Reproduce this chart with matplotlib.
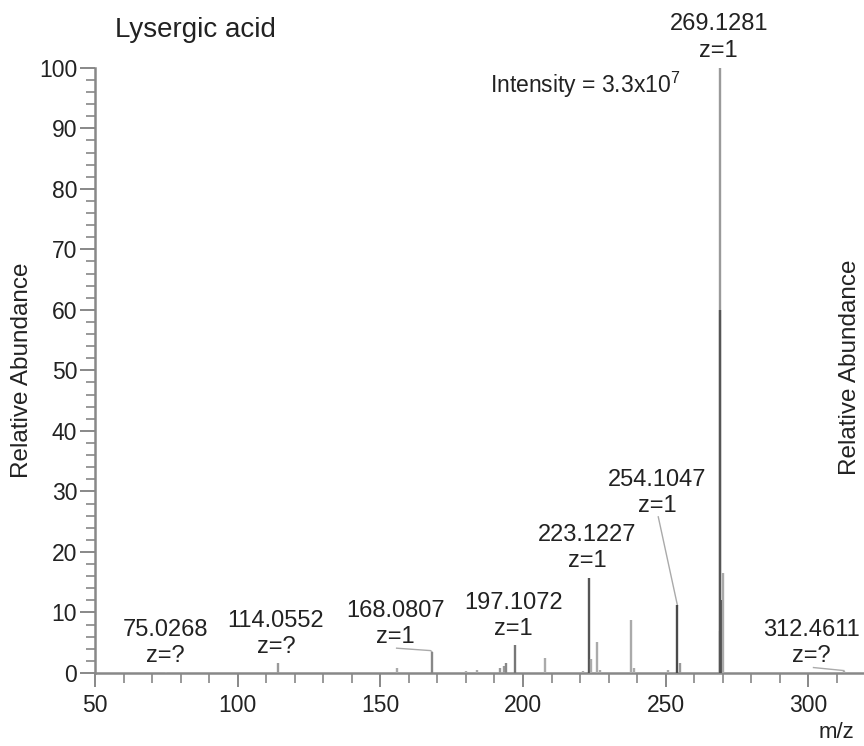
import matplotlib
matplotlib.use("Agg")
import matplotlib.pyplot as plt
from matplotlib.ticker import FixedLocator

# ---------------- data ----------------
peak_mz = [75.0268, 114.0552, 155.7, 168.0807, 180.0, 183.8, 192.0, 193.4, 194.1,
           197.1072, 207.8, 221.0, 223.1227, 224.0, 226.0, 227.0, 238.0, 238.9,
           250.8, 254.1047, 255.1, 268.9, 269.1281, 269.05, 269.8, 270.13, 312.4611]
peak_int = [0.2, 1.6, 0.8, 3.5, 0.3, 0.5, 0.9, 1.2, 1.7,
            4.6, 2.4, 0.4, 15.7, 2.3, 5.1, 0.5, 8.8, 0.9,
            0.5, 11.2, 1.7, 7.0, 100.0, 60.0, 12.0, 16.5, 0.3]
peak_shade = ["#aaaaaa", "#999999", "#aaaaaa", "#888888", "#aaaaaa", "#aaaaaa", "#999999", "#999999", "#888888",
              "#777777", "#aaaaaa", "#aaaaaa", "#555555", "#aaaaaa", "#aaaaaa", "#aaaaaa", "#aaaaaa", "#aaaaaa",
              "#aaaaaa", "#4a4a4a", "#999999", "#aaaaaa", "#9a9a9a", "#555555", "#4a4a4a", "#aaaaaa", "#aaaaaa"]

label_mz = ["75.0268", "114.0552", "168.0807", "197.1072", "223.1227", "254.1047", "269.1281", "312.4611"]
label_z = ["z=?", "z=?", "z=1", "z=1", "z=1", "z=1", "z=1", "z=?"]
label_x = [74.7, 113.4, 155.2, 196.6, 222.6, 246.9, 268.6, 301.2]
label_y = [4.96, 6.4, 8.07, 9.45, 20.6, 29.7, 105.0, 4.9]

y_major = list(range(0, 101, 10))
y_minor = list(range(0, 101, 2))
x_major = list(range(50, 301, 50))
x_minor = list(range(50, 321, 10))

title = "Lysergic acid"
intensity_text = "Intensity = 3.3x10$^{7}$"
x_label = "m/z"
y_label = "Relative Abundance"

# ---------------- style ----------------
plt.rcParams["font.family"] = ["Liberation Sans", "DejaVu Sans"]
plt.rcParams["mathtext.fontset"] = "custom"
plt.rcParams["mathtext.rm"] = "Liberation Sans"
plt.rcParams["mathtext.default"] = "regular"

txt = "#222222"
axis_col = "#888888"

fig = plt.figure(figsize=(8.64, 7.46), dpi=100)
ax = fig.add_axes([95 / 864, 73 / 746, 1 - 95 / 864, 673 / 746])

ax.set_xlim(50, 319.5)
ax.set_ylim(0, 111.2)

ax.vlines(peak_mz, 0, peak_int, colors=peak_shade, linewidth=1.7, zorder=3)

for s, z, x, y in zip(label_mz, label_z, label_x, label_y):
    ax.text(x, y, s + "\n" + z, ha="center", va="center", fontsize=17,
            color=txt, linespacing=1.25, zorder=4)

# leader lines
leader_col = "#aaaaaa"
ax.plot([247.4, 254.1047], [25.8, 11.2], color=leader_col, lw=1.0, zorder=2)
ax.plot([155.7, 167.6, 168.0807], [4.1, 3.7, 3.5], color=leader_col, lw=1.0, zorder=2)
ax.plot([301.8, 312.4611], [0.9, 0.4], color=leader_col, lw=1.0, zorder=2)

ax.text(57, 106.3, title, fontsize=20, color=txt, ha="left", va="center")
ax.text(188.4, 97.2, intensity_text, fontsize=16.5, color=txt, ha="left", va="center")

# axes styling
for side in ["top", "right"]:
    ax.spines[side].set_visible(False)
ax.spines["left"].set_bounds(0, 100)
for side in ["left", "bottom"]:
    ax.spines[side].set_color(axis_col)
    ax.spines[side].set_linewidth(1.8)

ax.yaxis.set_major_locator(FixedLocator(y_major))
ax.yaxis.set_minor_locator(FixedLocator(y_minor))
ax.xaxis.set_major_locator(FixedLocator(x_major))
ax.xaxis.set_minor_locator(FixedLocator(x_minor))

ax.tick_params(axis="y", which="major", length=10.8, width=1.4, color=axis_col,
               labelsize=16.5, labelcolor=txt, pad=2)
ax.tick_params(axis="y", which="minor", length=6.5, width=1.2, color=axis_col)
ax.tick_params(axis="x", which="major", length=10, width=1.4, color=axis_col,
               labelsize=16.5, labelcolor=txt, pad=5)
ax.tick_params(axis="x", which="minor", length=7.5, width=1.2, color=axis_col)
ax.set_facecolor("none")

fig.text(22 / 864, 1 - 370 / 746, y_label, rotation=90, ha="center", va="center",
         fontsize=17.5, color=txt)
fig.text(850 / 864, 1 - 367 / 746, y_label, rotation=90, ha="center", va="center",
         fontsize=17.5, color=txt)
fig.text(836.7 / 864, 1 - 733 / 746, x_label, ha="center", va="center",
         fontsize=16, color=txt)

fig.savefig("out.png", dpi=100)
